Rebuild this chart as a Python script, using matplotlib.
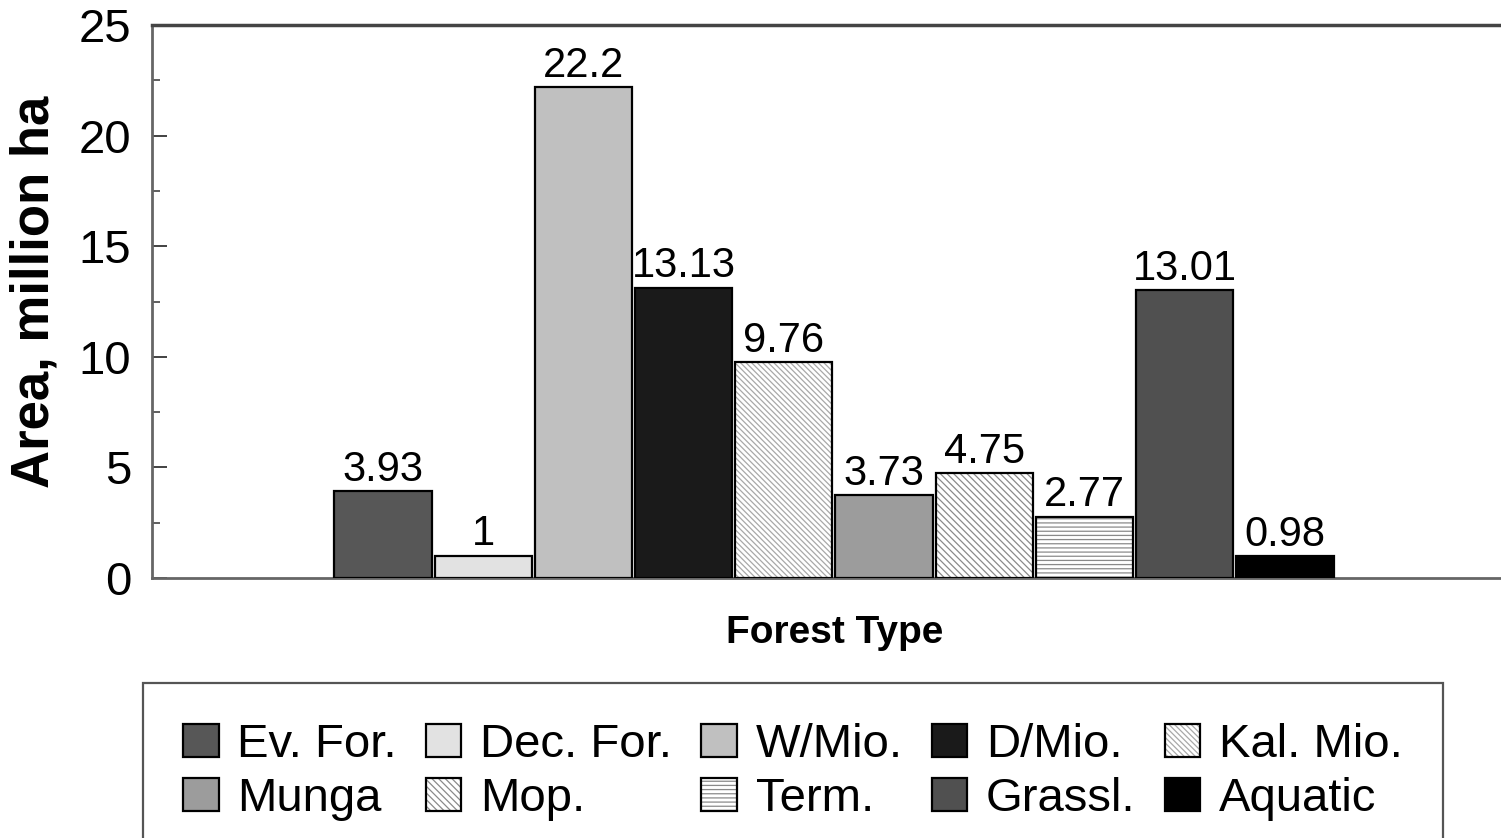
import numpy as np
import matplotlib
matplotlib.use("Agg")
import matplotlib.pyplot as plt
from matplotlib.patches import Patch
from matplotlib.ticker import MultipleLocator

# Forest types and their areas (million ha)
forest_types = ["Ev. For.", "Dec. For.", "W/Mio.", "D/Mio.", "Kal. Mio.",
                "Munga", "Mop.", "Term.", "Grassl.", "Aquatic"]
areas = [3.93, 1.0, 22.2, 13.13, 9.76, 3.73, 4.75, 2.77, 13.01, 0.98]

# Fill style per forest type: (face colour, hatch pattern, hatch colour)
fills = [
    ("#575757", None, None),
    ("#e2e2e2", None, None),
    ("#c0c0c0", None, None),
    ("#1a1a1a", None, None),
    ("#ffffff", "\\\\\\\\\\\\", "#a8a8a8"),
    ("#9c9c9c", None, None),
    ("#ffffff", "\\\\\\\\\\", "#8a8a8a"),
    ("#ffffff", "----", "#8a8a8a"),
    ("#505050", None, None),
    ("#000000", None, None),
]

plt.rcParams["font.family"] = ["Liberation Sans", "DejaVu Sans"]
plt.rcParams["hatch.linewidth"] = 0.9

fig = plt.figure(figsize=(15.01, 8.38), dpi=100)
ax = fig.add_axes([152 / 1501, 1 - 578 / 838, 1 - 152 / 1501, (578 - 25) / 838])

x = np.arange(len(areas))
bar_w = 0.97
handles = []
for xi, val, (fc, hatch, hc) in zip(x, areas, fills):
    ax.bar(xi, val, width=bar_w, color=fc, hatch=hatch,
           edgecolor=hc if hc else fc, linewidth=0, zorder=2)
    ax.bar(xi, val, width=bar_w, fill=False, edgecolor="black",
           linewidth=1.6, zorder=3)
    ax.annotate(f"{val:g}", (xi, val), xytext=(0, 1), textcoords="offset points",
                ha="center", va="bottom", fontsize=30)
    h_fill = Patch(facecolor=fc, hatch=hatch, edgecolor=hc if hc else fc, linewidth=0)
    h_edge = Patch(fill=False, edgecolor="black", linewidth=1.6)
    handles.append((h_fill, h_edge))

ax.set_xlim(-2.305, 11.156)
ax.set_ylim(0, 25)
ax.set_xticks([])
ax.yaxis.set_major_locator(MultipleLocator(5))
ax.yaxis.set_minor_locator(MultipleLocator(2.5))
ax.tick_params(axis="y", which="major", direction="in", length=11, width=1.2,
               color="#222222", labelsize=34, pad=15)
ax.tick_params(axis="y", which="minor", direction="in", length=6, width=1.2,
               color="#444444")
for side in ("left", "bottom"):
    ax.spines[side].set_color("#666666")
    ax.spines[side].set_linewidth(2)
ax.spines["top"].set_color("#444444")
ax.spines["top"].set_linewidth(2.5)
ax.spines["right"].set_visible(False)

fig.text(35 / 1501, 1 - 292 / 838, "Area, million ha", rotation=90,
         ha="center", va="center", fontsize=38, fontweight="bold")
fig.text(835 / 1501, 1 - 633 / 838, "Forest Type", ha="center", va="center",
         fontsize=28, fontweight="bold")

# Legend reads row-wise, five entries per row
order = [0, 5, 1, 6, 2, 7, 3, 8, 4, 9]
leg = fig.legend([handles[i] for i in order], [forest_types[i] for i in order],
                 ncol=5, loc="upper left", mode="expand",
                 bbox_to_anchor=(143 / 1501, 0, 1300 / 1501, 1 - 683 / 838),
                 fontsize=34, frameon=True, fancybox=False, framealpha=1,
                 edgecolor="#555555", borderpad=0.85, handlelength=0.75,
                 handleheight=0.7, handletextpad=0.4, labelspacing=0.2,
                 borderaxespad=0)
leg.get_frame().set_linewidth(1.6)

fig.savefig("out.png", dpi=100)
